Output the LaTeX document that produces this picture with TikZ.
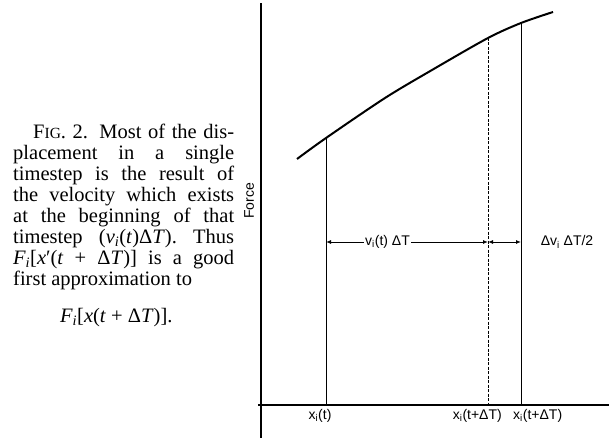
\documentclass[tikz,border=0pt]{standalone}
\usepackage{fontspec}
\setmainfont{Liberation Serif}
\newfontfamily\lblfont{Liberation Sans}
\usetikzlibrary{arrows.meta}
\begin{document}
\begin{tikzpicture}[x=1pt, y=-1pt,
  axis/.style={line width=1.6pt},
  curve/.style={line width=2pt},
  level/.style={line width=1pt},
  dim/.style={line width=0.9pt, {Latex[length=5pt,width=4pt]}-{Latex[length=5pt,width=4pt]}},
  lbl/.style={font=\lblfont\fontsize{14}{16}\selectfont, inner sep=1pt}]
\useasboundingbox (0,0) rectangle (609,438);
\node[anchor=north west, inner sep=0pt, text width=221pt, align=justify, font=\fontsize{20.5}{21}\selectfont] (caption) at (13,124) {\hspace*{20pt}F{\fontsize{15.5}{21}\selectfont IG}. 2. Most of the dis-\linebreak placement in a single\linebreak timestep is the result of\linebreak the velocity which exists\linebreak at the beginning of that\linebreak timestep (\textit{v\textsubscript{i}}(\textit{t})Δ\textit{T}). Thus\linebreak \textit{F\textsubscript{i}}[\textit{x}′(\textit{t} + Δ\textit{T})] is a good\linebreak first approximation to};
\node[anchor=base west, inner sep=0pt, font=\fontsize{20.5}{21}\selectfont] (formula) at (60,322) {\textit{F\textsubscript{i}}[\textit{x}(\textit{t} + Δ\textit{T})].};
\coordinate (origin) at (261,405);
\draw[axis] (261,438) -- (261,3);
\draw[axis] (258,405) -- (609,405);
\node[lbl, rotate=90] (force) at (249,201) {Force};
\coordinate (ft) at (326,138);
\coordinate (fd) at (488,38);
\coordinate (fs) at (521,23);
\draw[curve] plot[smooth] coordinates {(297,159) (ft) (385,98) (432,70) (fd) (fs) (553,12)};
\coordinate (tb) at (ft |- origin);
\coordinate (db) at (fd |- origin);
\coordinate (sb) at (fs |- origin);
\draw[level] (ft) -- (tb);
\draw[level, dashed, dash pattern=on 3pt off 1.5pt] (fd) -- (db);
\draw[level] (fs) -- (sb);
\node[lbl, anchor=north] (xt) at ([xshift=-6pt, yshift=-3pt]tb) {x\textsubscript{i}(t)};
\node[lbl, anchor=north east] (xd) at ([xshift=15pt, yshift=-3pt]db) {x\textsubscript{i}(t+ΔT)};
\node[lbl, anchor=north west] (xs) at ([xshift=-9pt, yshift=-3pt]sb) {x\textsubscript{i}(t+ΔT)};
\coordinate (ya) at (0,242);
\draw[dim] (ft |- ya) -- node[lbl, pos=0.38, fill=white] (vdt) {v\textsubscript{i}(t) ΔT} (fd |- ya);
\draw[dim] (fd |- ya) -- (fs |- ya);
\node[lbl] (dv) at (567,242) {Δv\textsubscript{i} ΔT/2};
\end{tikzpicture}
\end{document}
